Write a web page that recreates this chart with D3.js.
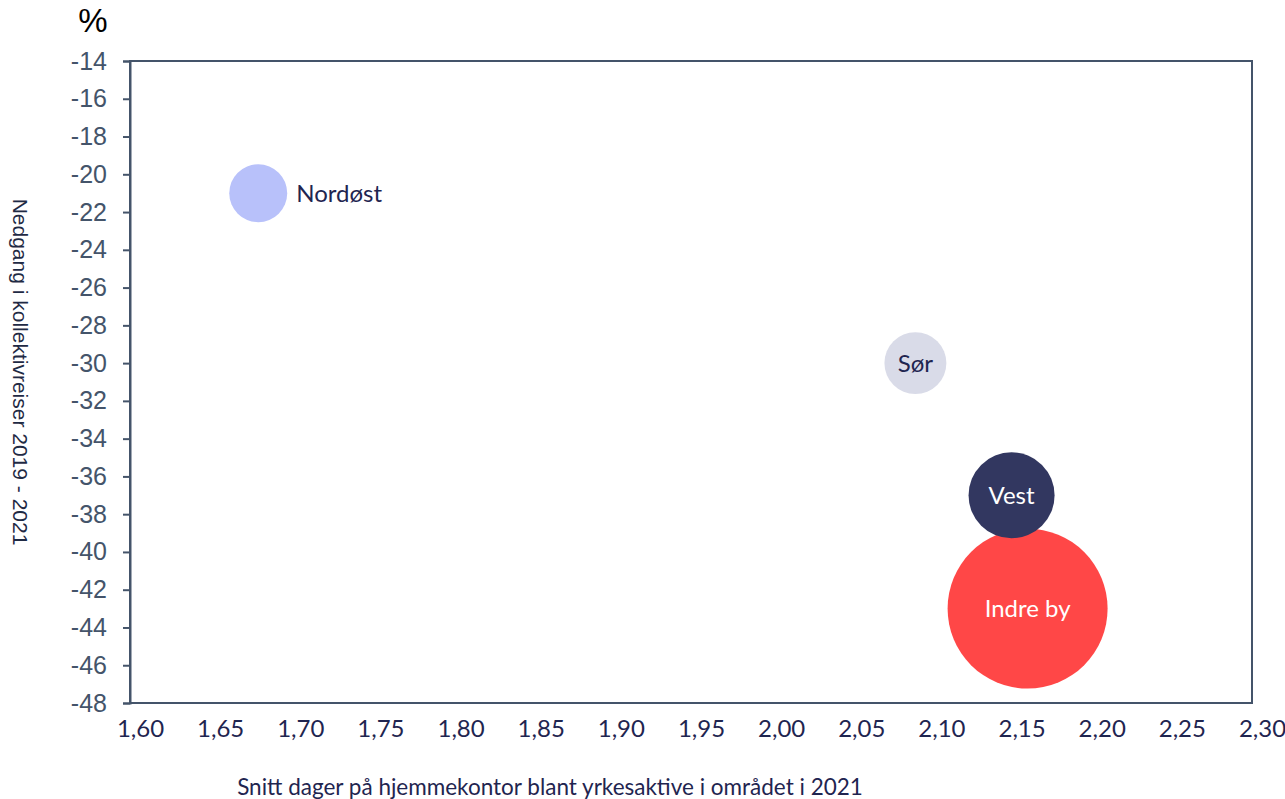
<!DOCTYPE html>
<html>
<head>
<meta charset="utf-8">
<script src="https://cdn.jsdelivr.net/npm/d3@7"></script>
<style>
  body { margin: 0; background: #fff; }
</style>
</head>
<body>
<div id="chart"></div>
<script>
// area names, home office days, change in transit trips (%), bubble size
const areas = ["Nordøst", "Sør", "Vest", "Indre by"];
const homeDays = [1.68, 2.09, 2.15, 2.16];
const change = [-21, -30, -37, -43];
const sizes = [84, 96, 185, 640];
const colors = ["#b8c1fa", "#d9dbe8", "#323760", "#ff4747"];
const labelColors = ["#1f2550", "#1f2550", "#ffffff", "#ffffff"];

const xTicks = [1.60, 1.65, 1.70, 1.75, 1.80, 1.85, 1.90, 1.95, 2.00, 2.05, 2.10, 2.15, 2.20, 2.25, 2.30];
const yTicks = d3.range(-14, -49, -2);

const width = 1285;
const height = 799;
const margin = { top: 61, right: 33, bottom: 96, left: 130 };

const svg = d3.select("#chart")
  .append("svg")
  .attr("width", width)
  .attr("height", height);

const xScale = d3.scaleLinear().domain([1.6, 2.3]).range([margin.left, width - margin.right]);
const yScale = d3.scaleLinear().domain([-48, -14]).range([height - margin.bottom, margin.top]);
const rScale = d3.scaleSqrt().domain([0, 640]).range([0, 80]);

const axisColor = "#44546a";

// plot frame
svg.append("rect")
  .attr("x", margin.left)
  .attr("y", margin.top)
  .attr("width", width - margin.left - margin.right)
  .attr("height", height - margin.top - margin.bottom)
  .attr("fill", "none")
  .attr("stroke", axisColor)
  .attr("stroke-width", 2);

// y axis
const yAxis = svg.append("g")
  .attr("transform", `translate(${margin.left}, 0)`)
  .call(d3.axisLeft(yScale).tickValues(yTicks).tickSize(7).tickPadding(16).tickFormat(d => d));
yAxis.select(".domain").attr("stroke", axisColor).attr("stroke-width", 2);
yAxis.selectAll(".tick line").attr("stroke", axisColor).attr("stroke-width", 2);
yAxis.selectAll(".tick text")
  .attr("fill", axisColor)
  .attr("font-family", "Liberation Sans, Arial, sans-serif")
  .attr("font-size", "25px");

// x axis (labels only)
const xAxis = svg.append("g")
  .attr("transform", `translate(0, ${height - margin.bottom})`)
  .call(d3.axisBottom(xScale).tickValues(xTicks).tickSize(0).tickPadding(17)
    .tickFormat(d => d3.format(".2f")(d).replace(".", ",")));
xAxis.select(".domain").remove();
xAxis.selectAll(".tick text")
  .attr("dx", 10)
  .attr("fill", "#1f2550")
  .attr("font-family", "Lato, 'Open Sans', sans-serif")
  .attr("font-size", "24px");

// bubbles, largest first
const order = d3.range(areas.length).sort((a, b) => sizes[b] - sizes[a]);

svg.selectAll("circle.bubble")
  .data(order)
  .enter()
  .append("circle")
  .attr("class", "bubble")
  .attr("cx", i => xScale(homeDays[i]))
  .attr("cy", i => yScale(change[i]))
  .attr("r", i => rScale(sizes[i]))
  .attr("fill", i => colors[i]);

svg.selectAll("text.blabel")
  .data(d3.range(areas.length))
  .enter()
  .append("text")
  .attr("class", "blabel")
  .attr("x", i => i === 0 ? xScale(homeDays[i]) + rScale(sizes[i]) + 9 : xScale(homeDays[i]))
  .attr("y", i => yScale(change[i]))
  .attr("dy", "0.35em")
  .attr("text-anchor", i => i === 0 ? "start" : "middle")
  .attr("fill", i => labelColors[i])
  .attr("font-family", "Lato, 'Open Sans', sans-serif")
  .attr("font-size", "24px")
  .text(i => areas[i]);

// titles
svg.append("text")
  .attr("x", 93)
  .attr("y", 32)
  .attr("text-anchor", "middle")
  .attr("font-family", "Liberation Sans, Arial, sans-serif")
  .attr("font-size", "33px")
  .attr("fill", "#000")
  .text("%");

svg.append("text")
  .attr("transform", "translate(13, 372) rotate(90)")
  .attr("text-anchor", "middle")
  .attr("font-family", "Liberation Sans, Arial, sans-serif")
  .attr("font-size", "21px")
  .attr("fill", "#1f2a44")
  .text("Nedgang i kollektivreiser 2019 - 2021");

svg.append("text")
  .attr("x", 550)
  .attr("y", 795)
  .attr("text-anchor", "middle")
  .attr("font-family", "Lato, 'Open Sans', sans-serif")
  .attr("font-size", "22.5px")
  .attr("fill", "#1f2550")
  .text("Snitt dager på hjemmekontor blant yrkesaktive i området i 2021");
</script>
</body>
</html>
